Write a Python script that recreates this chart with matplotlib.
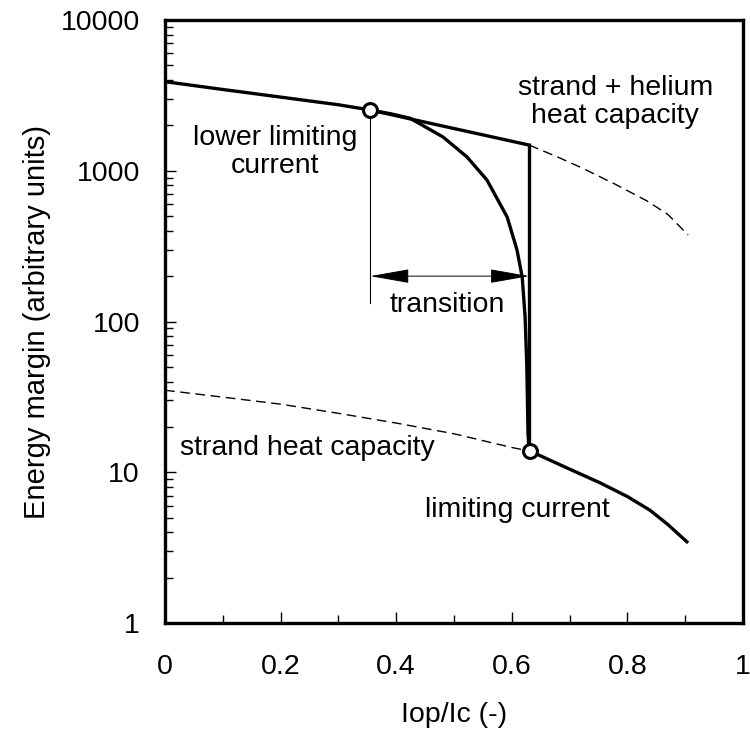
import matplotlib
matplotlib.use('Agg')
import matplotlib.pyplot as plt
from matplotlib.ticker import FixedLocator, FixedFormatter, NullFormatter

plt.rcParams['font.family'] = ['Liberation Sans', 'DejaVu Sans']

# strand + helium heat capacity (solid part, up to the vertical drop)
upper_x = [0.0, 0.1, 0.2, 0.3, 0.355, 0.45, 0.55, 0.63]
upper_y = [3900, 3460, 3080, 2740, 2530, 2100, 1730, 1480]

# dashed continuation of the upper curve
upper_dash_x = [0.63, 0.68, 0.72, 0.78, 0.834, 0.87, 0.905]
upper_dash_y = [1480, 1230, 1050, 810, 630, 513, 375]

# transition curve from lower limiting current down to limiting current
trans_x = [0.355, 0.39, 0.424, 0.481, 0.5225, 0.557, 0.592, 0.609, 0.618,
           0.623, 0.626, 0.628, 0.63]
trans_y = [2530, 2390, 2230, 1675, 1234, 868, 493, 298, 197,
           107, 50, 18.2, 13.8]

# vertical drop at the limiting current
drop_x = [0.63, 0.63]
drop_y = [1480, 13.8]

# strand heat capacity (dashed part)
lower_dash_x = [0.0, 0.1, 0.2, 0.3, 0.4, 0.5, 0.6, 0.632]
lower_dash_y = [35, 31.5, 28.3, 24.6, 21.2, 18.0, 14.6, 13.8]

# strand heat capacity (solid part above limiting current)
lower_x = [0.632, 0.695, 0.753, 0.8, 0.839, 0.87, 0.905]
lower_y = [13.8, 10.7, 8.5, 6.9, 5.6, 4.5, 3.4]

# marked limiting currents
mark_x = [0.355, 0.632]
mark_y = [2530, 13.8]

y_ticks = [1, 10, 100, 1000, 10000]
y_labels = ['1', '10', '100', '1000', '10000']
x_ticks = [0, 0.2, 0.4, 0.6, 0.8, 1]
x_labels = ['0', '0.2', '0.4', '0.6', '0.8', '1']

fs = 20.5

fig = plt.figure(figsize=(7.5, 7.38), dpi=100)
ax = fig.add_axes([0.22, 0.1558, 0.7707, 0.8171])

ax.plot(upper_x, upper_y, color='k', lw=2.4, solid_joinstyle='round')
ax.plot(upper_dash_x, upper_dash_y, color='k', lw=1.0, dashes=(7, 4))
ax.plot(trans_x, trans_y, color='k', lw=2.4, solid_joinstyle='round')
ax.plot(drop_x, drop_y, color='k', lw=2.4)
ax.plot(lower_dash_x, lower_dash_y, color='k', lw=1.0, dashes=(7, 4))
ax.plot(lower_x, lower_y, color='k', lw=2.4, solid_capstyle='butt',
        solid_joinstyle='round')

# thin marker line below the lower limiting current
ax.plot([0.355, 0.355], [2530, 133], color='k', lw=0.8)

# transition arrow
ax.annotate('', xy=(0.63, 200), xytext=(0.355, 200),
            arrowprops=dict(arrowstyle='<|-|>,head_length=1.25,head_width=0.22',
                            color='k', lw=0.7, shrinkA=0, shrinkB=0,
                            mutation_scale=20))

ax.plot(mark_x, mark_y, 'o', ms=10, mfc='white', mec='k', mew=2.2, zorder=5)

ax.text(0.19, 1330, 'lower limiting\ncurrent', ha='center', va='center',
        fontsize=fs, linespacing=1.1)
ax.text(0.779, 2860, 'strand + helium\nheat capacity', ha='center', va='center',
        fontsize=fs, linespacing=1.1)
ax.text(0.488, 129, 'transition', ha='center', va='center', fontsize=fs)
ax.text(0.246, 14.5, 'strand heat capacity', ha='center', va='center', fontsize=fs)
ax.text(0.609, 5.6, 'limiting current', ha='center', va='center', fontsize=fs)

ax.set_yscale('log')
ax.set_xlim(0, 1)
ax.set_ylim(1, 10000)

ax.xaxis.set_major_locator(FixedLocator(x_ticks))
ax.xaxis.set_major_formatter(FixedFormatter(x_labels))
ax.xaxis.set_minor_locator(FixedLocator([0.1, 0.3, 0.5, 0.7, 0.9]))
ax.yaxis.set_major_locator(FixedLocator(y_ticks))
ax.yaxis.set_major_formatter(FixedFormatter(y_labels))
ax.yaxis.set_minor_formatter(NullFormatter())

ax.tick_params(which='both', direction='in', top=False, right=False,
               labelsize=fs, width=1.0)
ax.tick_params(axis='y', pad=18)
ax.tick_params(axis='x', pad=22)
ax.tick_params(which='major', length=8)
ax.tick_params(which='minor', length=6)

for sp in ax.spines.values():
    sp.set_linewidth(2.4)

ax.set_xlabel('Iop/Ic (-)', fontsize=fs, labelpad=16)
ax.set_ylabel('Energy margin (arbitrary units)', fontsize=21, labelpad=7)

plt.savefig('out.png', dpi=100)
plt.close()
